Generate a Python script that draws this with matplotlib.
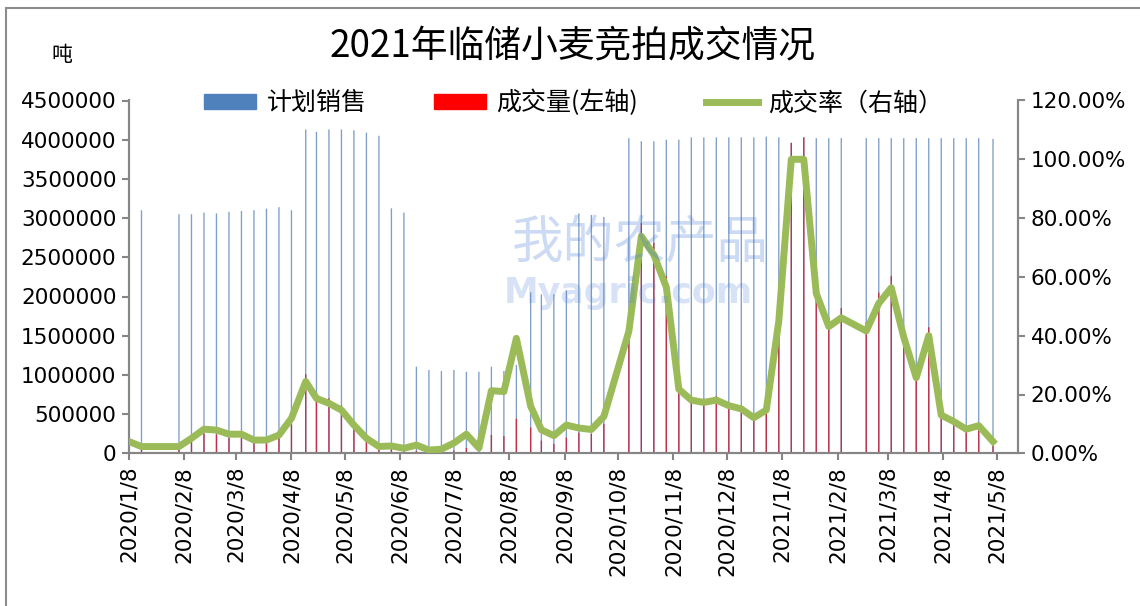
import matplotlib
matplotlib.use('Agg')
import matplotlib.pyplot as plt
from matplotlib.patches import Patch, Rectangle
from matplotlib.lines import Line2D
from matplotlib.ticker import FuncFormatter
import pandas as pd

CJK = ['Noto Sans CJK SC', 'DejaVu Sans']
plt.rcParams['font.family'] = ['DejaVu Sans', 'Noto Sans CJK SC']

dates = [
    '2020-01-08', '2020-01-15', '2020-02-05', '2020-02-12', '2020-02-19', '2020-02-26',
    '2020-03-04', '2020-03-11', '2020-03-18', '2020-03-25', '2020-04-01', '2020-04-08',
    '2020-04-16', '2020-04-22', '2020-04-29', '2020-05-06', '2020-05-13', '2020-05-20',
    '2020-05-27', '2020-06-03', '2020-06-10', '2020-06-17', '2020-06-24', '2020-07-01',
    '2020-07-08', '2020-07-15', '2020-07-22', '2020-07-29', '2020-08-05', '2020-08-12',
    '2020-08-20', '2020-08-26', '2020-09-02', '2020-09-09', '2020-09-16', '2020-09-23',
    '2020-09-30', '2020-10-14', '2020-10-21', '2020-10-28', '2020-11-04', '2020-11-11',
    '2020-11-18', '2020-11-25', '2020-12-02', '2020-12-09', '2020-12-16', '2020-12-23',
    '2020-12-30', '2021-01-06', '2021-01-13', '2021-01-20', '2021-01-27', '2021-02-03',
    '2021-02-10', '2021-02-24', '2021-03-03', '2021-03-10', '2021-03-17', '2021-03-24',
    '2021-03-31', '2021-04-07', '2021-04-14', '2021-04-21', '2021-04-28', '2021-05-06']

# 计划销售 (吨)
plan = [
    3100000, 3100000, 3050000, 3050000, 3070000, 3060000,
    3080000, 3090000, 3100000, 3120000, 3140000, 3100000,
    4130000, 4100000, 4130000, 4130000, 4120000, 4090000,
    4050000, 3125000, 3070000, 1105000, 1063000, 1050000,
    1063000, 1040000, 1040000, 1105000, 1050000, 1127000,
    2054000, 2028000, 2028000, 2080000, 3060000, 3040000,
    3015000, 4020000, 3980000, 3980000, 4000000, 4000000,
    4030000, 4030000, 4030000, 4030000, 4030000, 4030000,
    4040000, 4030000, 3960000, 4030000, 4020000, 4020000,
    4020000, 4020000, 4020000, 4020000, 4020000, 4020000,
    4020000, 4020000, 4020000, 4020000, 4020000, 4010000]

# 成交量 (吨)
volume = [
    124000, 71000, 70000, 156000, 252000, 242000,
    200000, 201000, 140000, 140000, 195000, 369000,
    1008000, 767000, 702000, 607000, 396000, 209000,
    93000, 78000, 52000, 31000, 12000, 15000,
    37000, 68000, 19000, 235000, 220000, 441000,
    329000, 162000, 122000, 200000, 263000, 246000,
    377000, 1668000, 2937000, 2687000, 2260000, 872000,
    729000, 697000, 729000, 653000, 609000, 488000,
    594000, 1814000, 3960000, 4030000, 2187000, 1733000,
    1853000, 1672000, 2050000, 2263000, 1588000, 1033000,
    1608000, 523000, 434000, 330000, 378000, 160000]

# 成交率 (%)
rate = [
    4.0, 2.3, 2.3, 5.1, 8.2, 7.9,
    6.5, 6.5, 4.5, 4.5, 6.2, 11.9,
    24.4, 18.7, 17.0, 14.7, 9.6, 5.1,
    2.3, 2.5, 1.7, 2.8, 1.1, 1.4,
    3.5, 6.5, 1.8, 21.3, 21.0, 39.1,
    16.0, 8.0, 6.0, 9.6, 8.6, 8.1,
    12.5, 41.5, 73.8, 67.5, 56.5, 21.8,
    18.1, 17.3, 18.1, 16.2, 15.1, 12.1,
    14.7, 45.0, 100.0, 100.0, 54.4, 43.1,
    46.1, 41.6, 51.0, 56.3, 39.5, 25.7,
    40.0, 13.0, 10.8, 8.2, 9.4, 4.0]

legend_labels = ['计划销售', '成交量(左轴)', '成交率（右轴）']
title = '2021年临储小麦竞拍成交情况'

x = pd.to_datetime(dates)
grey = '#868686'

fig = plt.figure(figsize=(11.4, 6.06), dpi=100)
ax = fig.add_axes([129 / 1140, 1 - 453.3 / 606, 889 / 1140, 352.8 / 606])

ax.bar(x, plan, width=0.75, color='#7f9fca', linewidth=0, snap=False, zorder=1)
ax.bar(x, volume, width=0.75, color='#c0304a', linewidth=0, snap=False, zorder=2)

ax.set_xlim(pd.Timestamp('2020-01-08'), pd.Timestamp('2021-05-20'))
ax.set_ylim(0, 4500000)
ax.set_yticks(range(0, 4500001, 500000))
ax.yaxis.set_major_formatter(FuncFormatter(lambda v, p: f'{int(v)}'))

ticks = [pd.Timestamp('2020-01-08') + pd.DateOffset(months=i) for i in range(17)]
ax.set_xticks(ticks)
ax.set_xticklabels([f'{d.year}/{d.month}/{d.day}' for d in ticks], rotation=90)

ax2 = ax.twinx()
ax2.plot(x, rate, color='#9bbb59', linewidth=5, zorder=3)
ax2.set_ylim(0, 120)
ax2.set_yticks(range(0, 121, 20))
ax2.yaxis.set_major_formatter(FuncFormatter(lambda v, p: f'{v:.2f}%'))

for a in (ax, ax2):
    a.spines['top'].set_visible(False)
    for s in ('left', 'right', 'bottom'):
        a.spines[s].set_color(grey)
        a.spines[s].set_linewidth(1.5)
    a.tick_params(axis='both', colors=grey, labelcolor='black', labelsize=15.5,
                  length=5, width=1.5, direction='out', pad=4)

# 水印
fig.text(640 / 1140, 1 - 244 / 606, '我的农产品', fontsize=37, color='#4a7fd6',
         alpha=0.28, ha='center', va='center', family=CJK)
fig.text(628 / 1140, 1 - 293 / 606, 'Myagric.com', fontsize=25, color='#4a7fd6',
         alpha=0.22, ha='center', va='center', fontweight='bold')

handles = [Patch(color='#4f81bd'), Patch(color='#ff0000'),
           Line2D([], [], color='#9bbb59', linewidth=5)]
ax2.legend(handles, legend_labels, loc='center', bbox_to_anchor=(0.5, 0.993),
           ncol=3, frameon=False, prop={'family': CJK, 'size': 18},
           handlelength=2.1, handleheight=0.55, handletextpad=0.4,
           columnspacing=2.7, borderpad=0)

fig.text(573 / 1140, 1 - 46 / 606, title, fontsize=26.5, ha='center', va='center',
         family=CJK)
fig.text(62 / 1140, 1 - 55 / 606, '吨', fontsize=15, ha='center', va='center',
         family=CJK)

fig.patches.append(Rectangle((6 / 1140, -0.1), 1.2, 1 - 8 / 606 + 0.1,
                             transform=fig.transFigure, fill=False,
                             edgecolor='#8c8c8c', linewidth=1.5))

fig.savefig('out.png', dpi=100)
